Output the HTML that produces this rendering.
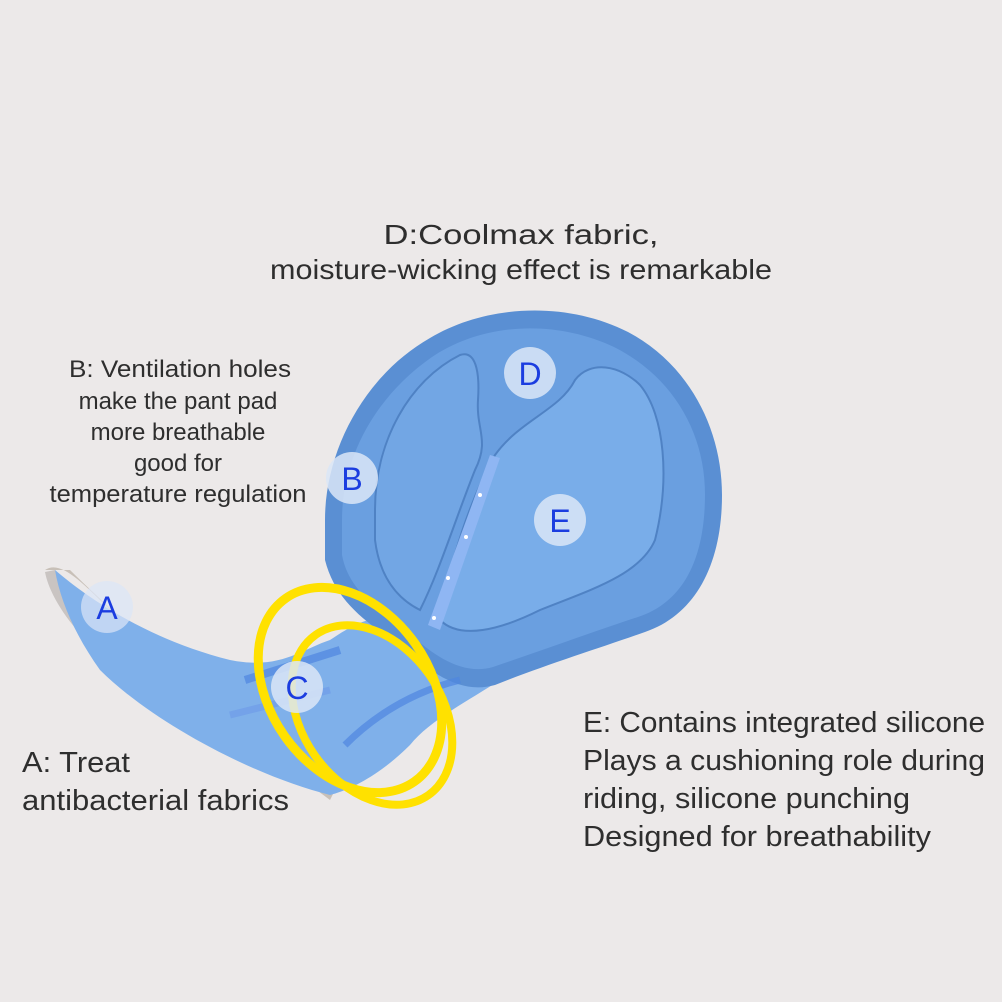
<!DOCTYPE html>
<html><head><meta charset="utf-8"><style>
html,body{margin:0;padding:0;background:#ece9e9;}
svg{display:block}
text{font-family:"Liberation Sans",sans-serif;fill:#2e2e2e}
</style></head><body>
<svg width="1002" height="1002" viewBox="0 0 1002 1002">
<rect width="1002" height="1002" fill="#ece9e9"/>
<!-- tail underside -->
<path d="M45,570 C60,560 80,580 110,610 C160,670 250,740 330,800 L335,790 C260,730 150,650 70,570 Z" fill="#c8c0b8"/>
<path d="M45,572 C50,600 80,640 110,660 L120,650 C90,620 70,590 55,570 Z" fill="#c9c4c2"/>
<!-- tail -->
<path d="M55,570 C90,600 150,640 230,660 C280,670 300,650 330,640 C360,620 380,610 420,625 C440,640 470,660 500,680 C470,700 430,720 410,745 C380,775 350,790 330,795 C250,775 150,720 100,670 C75,635 60,600 55,570 Z" fill="#7fb0ea"/>
<!-- main pad outer -->
<path d="M325,520 C325,450 365,375 430,338 C485,305 565,300 628,332 C690,365 722,430 722,495 C722,565 695,615 645,632 C600,648 545,665 495,685 C460,695 430,672 400,645 C365,622 335,600 325,560 Z" fill="#5a8fd3"/>
<path d="M342,520 C342,455 378,393 435,355 C487,322 557,320 614,347 C672,376 705,432 705,494 C705,558 684,602 638,617 C598,630 543,650 493,667 C462,676 432,655 406,630 C375,608 348,588 342,555 Z" fill="#6a9fe0"/>
<!-- left lobe -->
<path d="M375,510 C375,440 410,380 460,355 C475,350 480,370 478,400 C476,430 490,440 475,470 C455,520 440,570 420,610 C400,600 380,580 375,540 Z" fill="#72a6e4" stroke="#4f82c4" stroke-width="2"/>
<!-- right lobe E -->
<path d="M495,455 C520,420 560,410 575,380 C590,360 620,365 640,385 C665,415 670,480 655,540 C640,575 590,590 540,610 C500,630 460,640 440,620 C450,560 470,500 495,455 Z" fill="#79ade9" stroke="#4f82c4" stroke-width="2"/>
<!-- center channel -->
<path d="M490,455 L500,458 L440,630 L428,625 Z" fill="#8fb6f3"/>
<circle cx="480" cy="495" r="2" fill="#fff"/><circle cx="466" cy="537" r="2" fill="#fff"/><circle cx="448" cy="578" r="2" fill="#fff"/><circle cx="434" cy="618" r="2" fill="#fff"/>
<!-- flow arrows -->
<path d="M340,650 L245,680" stroke="#4f86df" stroke-width="8" fill="none" opacity=".7"/>
<path d="M330,690 L230,715" stroke="#6d9ae8" stroke-width="7" fill="none" opacity=".6"/>
<path d="M460,680 C420,690 380,710 345,745" stroke="#4f86df" stroke-width="7" fill="none" opacity=".7"/>
<!-- yellow rings -->
<ellipse cx="350" cy="690" rx="80" ry="112" transform="rotate(-35 350 690)" fill="none" stroke="#ffe100" stroke-width="9"/>
<ellipse cx="372" cy="715" rx="70" ry="98" transform="rotate(-35 372 715)" fill="none" stroke="#ffe100" stroke-width="8"/>
<!-- label circles -->
<g font-size="32" text-anchor="middle">
<circle cx="530" cy="373" r="26" fill="#dbe6f7" opacity=".85"/><text x="530" y="385" style="fill:#1b3de0">D</text>
<circle cx="352" cy="478" r="26" fill="#dbe6f7" opacity=".85"/><text x="352" y="490" style="fill:#1b3de0">B</text>
<circle cx="560" cy="520" r="26" fill="#dbe6f7" opacity=".85"/><text x="560" y="532" style="fill:#1b3de0">E</text>
<circle cx="107" cy="607" r="26" fill="#dbe6f7" opacity=".7"/><text x="107" y="619" style="fill:#1b3de0">A</text>
<circle cx="297" cy="687" r="26" fill="#dbe6f7" opacity=".85"/><text x="297" y="699" style="fill:#1b3de0">C</text>
</g>
<!-- texts -->
<g font-size="28" text-anchor="middle">
<text x="521" y="244" textLength="275" lengthAdjust="spacingAndGlyphs">D:Coolmax fabric,</text>
<text x="521" y="279" textLength="502" lengthAdjust="spacingAndGlyphs">moisture-wicking effect is remarkable</text>
</g>
<g font-size="24" text-anchor="middle">
<text x="180" y="377" textLength="222" lengthAdjust="spacingAndGlyphs">B: Ventilation holes</text>
<text x="178" y="409">make the pant pad</text>
<text x="178" y="440">more breathable</text>
<text x="178" y="471">good for</text>
<text x="178" y="502" textLength="257" lengthAdjust="spacingAndGlyphs">temperature regulation</text>
</g>
<g font-size="29">
<text x="22" y="772" textLength="108" lengthAdjust="spacingAndGlyphs">A: Treat</text>
<text x="22" y="810" textLength="267" lengthAdjust="spacingAndGlyphs">antibacterial fabrics</text>
<text x="583" y="732" textLength="402" lengthAdjust="spacingAndGlyphs">E: Contains integrated silicone</text>
<text x="583" y="770" textLength="402" lengthAdjust="spacingAndGlyphs">Plays a cushioning role during</text>
<text x="583" y="808" textLength="327" lengthAdjust="spacingAndGlyphs">riding, silicone punching</text>
<text x="583" y="846" textLength="348" lengthAdjust="spacingAndGlyphs">Designed for breathability</text>
</g>
</svg>
</body></html>
